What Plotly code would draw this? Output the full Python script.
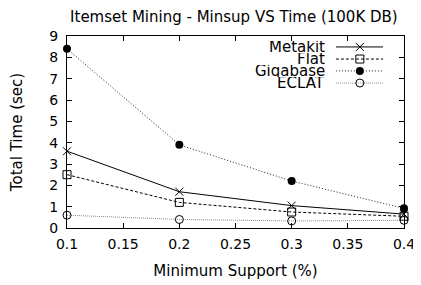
import plotly.graph_objects as go

min_support = [0.1, 0.2, 0.3, 0.4]
metakit = [3.6, 1.7, 1.05, 0.65]
flat = [2.5, 1.2, 0.75, 0.55]
gigabase = [8.4, 3.9, 2.2, 0.92]
eclat = [0.6, 0.4, 0.33, 0.36]

series_names = ["Metakit", "Flat", "Gigabase", "ECLAT"]
x_ticks = [0.1, 0.15, 0.2, 0.25, 0.3, 0.35, 0.4]
y_ticks = list(range(0, 10))

FONT = "DejaVu Sans, Liberation Sans, Arial, sans-serif"
styles = {
    "Metakit": dict(line=dict(color="black", width=1, dash="solid"),
                    marker=dict(symbol="x-thin", size=8, line=dict(color="black", width=1), color="black")),
    "Flat": dict(line=dict(color="black", width=1, dash="3px,2px"),
                 marker=dict(symbol="square-open", size=8, line=dict(color="black", width=1), color="black")),
    "Gigabase": dict(line=dict(color="#222", width=1, dash="1px,2px"),
                     marker=dict(symbol="circle", size=8, color="black")),
    "ECLAT": dict(line=dict(color="#888", width=1, dash="1px,1px"),
                  marker=dict(symbol="circle-open", size=8, line=dict(color="black", width=1), color="black")),
}
data = {"Metakit": metakit, "Flat": flat, "Gigabase": gigabase, "ECLAT": eclat}

fig = go.Figure()
for name in series_names:
    st = styles[name]
    fig.add_trace(go.Scatter(x=min_support, y=data[name], mode="lines+markers", name=name,
                             line=st["line"], marker=st["marker"], showlegend=False, cliponaxis=False))

# custom gnuplot-style key (text on left, sample on right)
rows = [0.943, 0.880, 0.818, 0.755]
for name, yy in zip(series_names, rows):
    st = styles[name]
    fig.add_trace(go.Scatter(x=[0.798, 0.938], y=[yy, yy], mode="lines", line=st["line"],
                             xaxis="x2", yaxis="y2", showlegend=False, hoverinfo="skip"))
    fig.add_trace(go.Scatter(x=[0.869], y=[yy], mode="markers", marker=st["marker"],
                             xaxis="x2", yaxis="y2", showlegend=False, hoverinfo="skip"))
    fig.add_annotation(x=0.768, y=yy, xref="paper", yref="paper", text=name, showarrow=False,
                       xanchor="right", yanchor="middle", height=12, valign="middle",
                       borderpad=0, font=dict(family=FONT, size=15, color="black"))

axis_common = dict(showgrid=False, zeroline=False, ticks="inside", ticklen=5, tickwidth=1,
                   tickcolor="black", showline=True, linecolor="black", linewidth=1, mirror="ticks",
                   automargin=False, tickfont=dict(family=FONT, size=14, color="black"))

fig.update_layout(
    width=413, height=277,
    margin=dict(l=59, r=17, t=28, b=57, autoexpand=False),
    paper_bgcolor="white", plot_bgcolor="white",
    title=dict(text="Itemset Mining - Minsup VS Time (100K DB)", x=0.547, xanchor="center",
               y=0.9675, yanchor="middle", font=dict(family=FONT, size=15, color="black")),
    xaxis=dict(range=[0.1, 0.4], tickvals=x_ticks, ticktext=[f"{v:g}" for v in x_ticks],
               ticklabelstandoff=3,
               title=dict(text="Minimum Support (%)", font=dict(family=FONT, size=15, color="black"), standoff=14),
               **axis_common),
    yaxis=dict(range=[0, 9], tickvals=y_ticks, ticklabelstandoff=5,
               title=dict(text="Total Time (sec)", font=dict(family=FONT, size=15, color="black"), standoff=24),
               **axis_common),
    xaxis2=dict(range=[0, 1], overlaying="x", visible=False, fixedrange=True),
    yaxis2=dict(range=[0, 1], overlaying="y", visible=False, fixedrange=True),
    showlegend=False,
)

fig.write_html("out.html")
